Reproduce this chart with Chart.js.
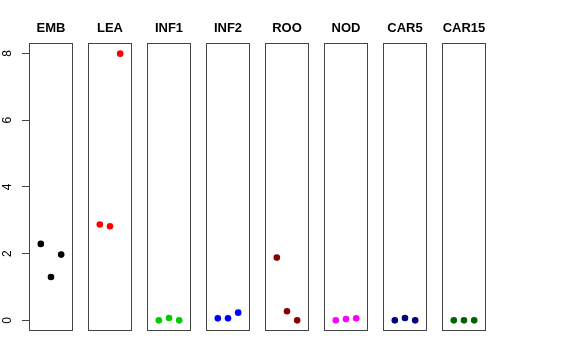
<!DOCTYPE html>
<html>
<head>
<meta charset="utf-8">
<script src="https://cdn.jsdelivr.net/npm/chart.js@4"></script>
<style>
  html, body { margin: 0; padding: 0; background: #fff; }
  #wrap { position: relative; width: 576px; height: 360px; overflow: hidden; }
  #wrap canvas { position: absolute; top: 0; }
</style>
</head>
<body>
<div id="wrap"></div>
<script>
// panel names, colours and the three values in each panel
const tissues = ["EMB", "LEA", "INF1", "INF2", "ROO", "NOD", "CAR5", "CAR15"];
const colors = ["#000000", "#ff0000", "#00cd00", "#0000ff", "#8b0000", "#ff00ff", "#000080", "#006400"];
const reps = [1, 2, 3];

const emb = [2.29, 1.30, 1.97];
const lea = [2.87, 2.82, 7.99];
const inf1 = [0.0, 0.07, 0.0];
const inf2 = [0.06, 0.06, 0.23];
const roo = [1.88, 0.27, 0.0];
const nod = [0.0, 0.04, 0.06];
const car5 = [0.0, 0.07, 0.0];
const car15 = [0.0, 0.0, 0.0];
const series = [emb, lea, inf1, inf2, roo, nod, car5, car15];

const yTicks = [0, 2, 4, 6, 8];

// R-style axis limits: 4% padding on each side
const yMax = Math.max(...series.flat());
const yMin = 0;
const yPad = (yMax - yMin) * 0.04;
const xPad = (4 - 0) * 0.04;

const boxPlugin = {
  id: "box",
  afterDatasetsDraw(chart) {
    const { ctx, chartArea: a } = chart;
    ctx.save();
    ctx.strokeStyle = "#444";
    ctx.lineWidth = 1;
    ctx.strokeRect(a.left + 0.5, a.top + 0.5, a.right - a.left - 1, a.bottom - a.top - 1);
    ctx.restore();
  }
};

const wrap = document.getElementById("wrap");
const panelW = 44;
const axisW = 29;
const pitch = 59.07;

tissues.forEach((name, i) => {
  const first = i === 0;
  const left = Math.round(axisW + pitch * i);
  const canvas = document.createElement("canvas");
  // first panel gets room for the y axis on the left
  const cw = first ? axisW + panelW + 1 : panelW + 2;
  canvas.width = cw;
  canvas.height = 332;
  canvas.style.width = cw + "px";
  canvas.style.height = "332px";
  canvas.style.left = (first ? 0 : left - 1) + "px";
  wrap.appendChild(canvas);

  const yAxis = {
    type: "linear",
    display: first,
    min: yMin - yPad,
    max: yMax + yPad,
    afterBuildTicks: (scale) => { scale.ticks = yTicks.map(v => ({ value: v })); },
    border: { display: false },
    grid: { display: true, drawOnChartArea: false, drawTicks: true, tickLength: 7, color: "#444" },
    ticks: {
      color: "#000",
      font: { family: "Liberation Sans, Arial, sans-serif", size: 12 },
      minRotation: 90,
      maxRotation: 90,
      crossAlign: "center",
      padding: 11,
      callback: (v) => v
    }
  };
  if (first) {
    yAxis.afterFit = (scale) => {
      scale.width = axisW;
      scale.paddingTop = 0;
      scale.paddingBottom = 0;
    };
  }

  new Chart(canvas, {
    type: "scatter",
    data: {
      datasets: [{
        data: reps.map((r, j) => ({ x: r, y: series[i][j] })),
        backgroundColor: colors[i],
        borderColor: colors[i],
        pointRadius: 3.3,
        borderWidth: 0
      }]
    },
    options: {
      responsive: false,
      animation: false,
      events: [],
      layout: { autoPadding: false, padding: { left: first ? 0 : 1, right: 1, top: 0, bottom: 1 } },
      scales: {
        x: { type: "linear", display: false, min: 0 - xPad, max: 4 + xPad },
        y: yAxis
      },
      plugins: {
        legend: { display: false },
        tooltip: { enabled: false },
        title: {
          display: true,
          fullSize: false,
          text: name,
          color: "#000",
          font: { family: "Liberation Sans, Arial, sans-serif", size: 13, weight: "bold" },
          padding: { top: 20.2, bottom: 7.2 }
        }
      }
    },
    plugins: [boxPlugin]
  });
});
</script>
</body>
</html>
